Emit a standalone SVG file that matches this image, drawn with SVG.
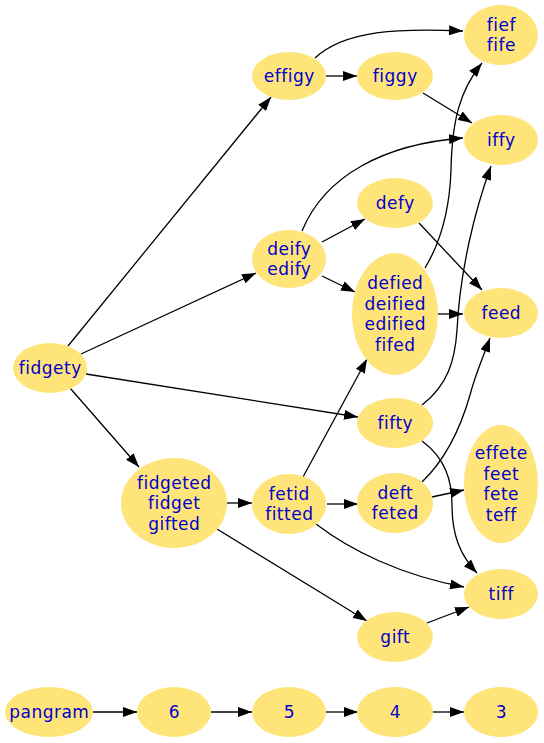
<svg xmlns="http://www.w3.org/2000/svg" width="544" height="743" viewBox="0 0 544 743">
<defs>
<marker id="ah" markerUnits="userSpaceOnUse" markerWidth="14" markerHeight="10" refX="14" refY="5" orient="auto">
<path d="M0,0 L14,5 L0,10 z" fill="#000"/>
</marker>
<style>
.n ellipse{fill:#ffe47a;stroke:none}
.n text{font-family:"DejaVu Sans",Verdana,sans-serif;font-size:17px;letter-spacing:0.5px;fill:#0000cc;text-anchor:middle}
#edges path{fill:none;stroke:#000;stroke-width:1.3;marker-end:url(#ah)}
</style>
</defs>
<rect width="544" height="743" fill="#fff"/>
<g id="edges">
<path d="M68,346 L271,97"/>
<path d="M81,354 L256,273"/>
<path d="M86,374 L358,417"/>
<path d="M70,388 L139,467"/>
<path d="M315,58 C345,30 400,28 463,31"/>
<path d="M326,76 L357,76"/>
<path d="M423,93 L472,123"/>
<path d="M302,231 C325,175 385,144 463,138"/>
<path d="M322,242 L365,219"/>
<path d="M322,276 L355,292"/>
<path d="M419,223 L482,290"/>
<path d="M425,268 C445,235 450,200 451,170 C452,120 460,90 482,63"/>
<path d="M438,314 L463,314"/>
<path d="M422,405 C448,385 455,360 457,330 C460,270 475,210 491,166"/>
<path d="M422,441 C445,458 452,480 452,505 C452,535 460,555 477,573"/>
<path d="M422,482 C445,460 460,430 470,395 C475,375 482,360 490,338"/>
<path d="M432,497 L464,490"/>
<path d="M303,477 L367,359"/>
<path d="M327,504 L358,504"/>
<path d="M316,524 C350,550 400,575 464,587"/>
<path d="M227,503 L252,503"/>
<path d="M217,529 L367,621"/>
<path d="M427,623 L469,607"/>
<path d="M93,712 L137,712"/>
<path d="M211,712 L252,712"/>
<path d="M326,712 L358,712"/>
<path d="M432,712 L464,712"/>
</g>
<g id="fief_fife" class="n"><ellipse cx="501" cy="35" rx="37" ry="30"/><text x="501.3" y="30.5">fief</text><text x="501.3" y="51">fife</text></g>
<g id="effigy" class="n"><ellipse cx="289" cy="76" rx="37" ry="24"/><text x="289.3" y="82">effigy</text></g>
<g id="figgy" class="n"><ellipse cx="395" cy="76" rx="38" ry="24"/><text x="395.3" y="82">figgy</text></g>
<g id="iffy" class="n"><ellipse cx="501" cy="140" rx="37" ry="25"/><text x="501.3" y="146">iffy</text></g>
<g id="defy" class="n"><ellipse cx="395" cy="203" rx="38" ry="25"/><text x="395.3" y="209">defy</text></g>
<g id="deify_edify" class="n"><ellipse cx="289" cy="259" rx="37" ry="29"/><text x="289.3" y="254.5">deify</text><text x="289.3" y="275">edify</text></g>
<g id="defied" class="n"><ellipse cx="395" cy="314" rx="43" ry="61"/><text x="395.3" y="289">defied</text><text x="395.3" y="309.5">deified</text><text x="395.3" y="330">edified</text><text x="395.3" y="350.5">fifed</text></g>
<g id="feed" class="n"><ellipse cx="501" cy="313" rx="37" ry="25"/><text x="501.3" y="319">feed</text></g>
<g id="fidgety" class="n"><ellipse cx="50" cy="368" rx="37" ry="25"/><text x="50.3" y="373.5">fidgety</text></g>
<g id="fifty" class="n"><ellipse cx="395" cy="423" rx="38" ry="25"/><text x="395.3" y="429">fifty</text></g>
<g id="effete" class="n"><ellipse cx="501" cy="484" rx="37" ry="59"/><text x="501.3" y="459">effete</text><text x="501.3" y="479.5">feet</text><text x="501.3" y="500">fete</text><text x="501.3" y="520.5">teff</text></g>
<g id="fidgeted" class="n"><ellipse cx="174" cy="503" rx="53" ry="45"/><text x="174.3" y="488.5">fidgeted</text><text x="174.3" y="509">fidget</text><text x="174.3" y="529.5">gifted</text></g>
<g id="fetid_fitted" class="n"><ellipse cx="289" cy="504" rx="37" ry="30"/><text x="289.3" y="499.5">fetid</text><text x="289.3" y="520">fitted</text></g>
<g id="deft_feted" class="n"><ellipse cx="395" cy="503" rx="38" ry="30"/><text x="395.3" y="498.5">deft</text><text x="395.3" y="519">feted</text></g>
<g id="tiff" class="n"><ellipse cx="501" cy="594" rx="37" ry="25"/><text x="501.3" y="600">tiff</text></g>
<g id="gift" class="n"><ellipse cx="395" cy="637" rx="38" ry="25"/><text x="395.3" y="643">gift</text></g>
<g id="pangram" class="n"><ellipse cx="49" cy="712" rx="44" ry="25"/><text x="49.3" y="718">pangram</text></g>
<g id="n6" class="n"><ellipse cx="174" cy="712" rx="37" ry="25"/><text x="174.3" y="718">6</text></g>
<g id="n5" class="n"><ellipse cx="289" cy="712" rx="37" ry="25"/><text x="289.3" y="718">5</text></g>
<g id="n4" class="n"><ellipse cx="395" cy="712" rx="38" ry="25"/><text x="395.3" y="718">4</text></g>
<g id="n3" class="n"><ellipse cx="501" cy="712" rx="37" ry="25"/><text x="501.3" y="718">3</text></g>
</svg>
